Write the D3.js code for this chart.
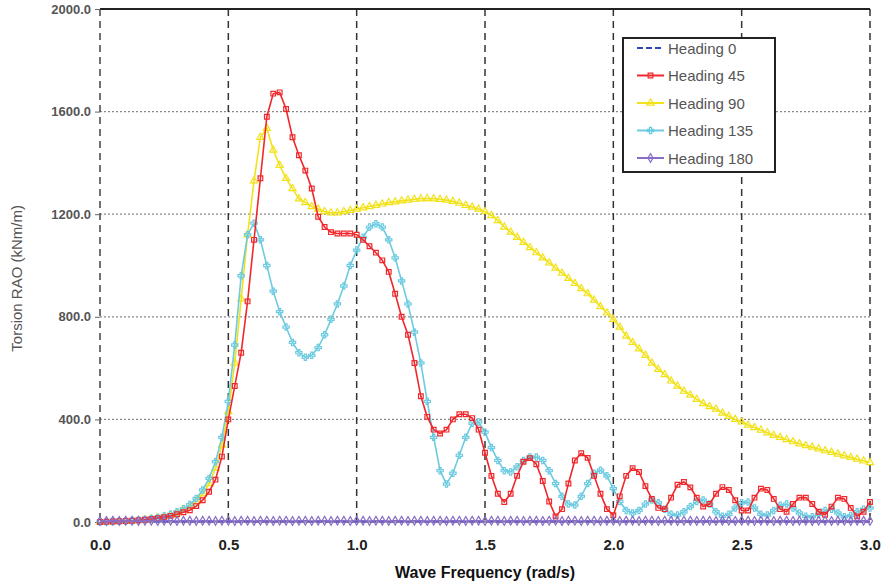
<!DOCTYPE html>
<html>
<head>
<meta charset="utf-8">
<script src="https://cdn.jsdelivr.net/npm/d3@7"></script>
<style>
  html, body { margin: 0; padding: 0; background: #ffffff; }
  svg { display: block; }
</style>
</head>
<body>
<div id="chart"></div>
<script>
// ---------- data ----------
const frequency = [
  0.000,0.025,0.050,0.075,0.100,0.125,0.150,0.175,0.200,0.225,
  0.250,0.275,0.300,0.325,0.350,0.375,0.400,0.425,0.450,0.475,
  0.500,0.525,0.550,0.575,0.600,0.625,0.650,0.675,0.700,0.725,
  0.750,0.775,0.800,0.825,0.850,0.875,0.900,0.925,0.950,0.975,
  1.000,1.025,1.050,1.075,1.100,1.125,1.150,1.175,1.200,1.225,
  1.250,1.275,1.300,1.325,1.350,1.375,1.400,1.425,1.450,1.475,
  1.500,1.525,1.550,1.575,1.600,1.625,1.650,1.675,1.700,1.725,
  1.750,1.775,1.800,1.825,1.850,1.875,1.900,1.925,1.950,1.975,
  2.000,2.025,2.050,2.075,2.100,2.125,2.150,2.175,2.200,2.225,
  2.250,2.275,2.300,2.325,2.350,2.375,2.400,2.425,2.450,2.475,
  2.500,2.525,2.550,2.575,2.600,2.625,2.650,2.675,2.700,2.725,
  2.750,2.775,2.800,2.825,2.850,2.875,2.900,2.925,2.950,2.975,
  3.000
];

const heading0 = [
  0,0,0,0,0,0,0,1,1,1,
  1,1,1,1,1,1,1,1,1,1,
  1,1,1,1,1,1,1,1,1,1,
  1,1,1,1,1,1,1,1,1,1,
  1,1,1,1,1,1,1,1,1,1,
  1,1,1,1,1,1,1,1,1,1,
  1,1,1,1,1,1,1,1,1,1,
  1,1,1,1,1,1,1,1,1,1,
  1,1,1,1,1,1,1,1,1,1,
  1,1,1,1,1,1,1,1,1,1,
  1,1,1,1,1,1,1,1,1,1,
  1,1,1,1,1,1,1,1,1,1,
  1
];

const heading45 = [
  0,1,2,3,4,5,7,9,12,15,
  19,24,30,38,46,62,85,118,165,255,
  400,530,660,860,1100,1340,1580,1670,1675,1610,
  1500,1430,1370,1300,1190,1150,1130,1125,1125,1125,
  1120,1100,1075,1050,1020,975,890,800,730,620,
  490,410,360,345,360,400,420,420,405,360,
  270,180,110,78,110,180,235,249,225,160,
  80,22,50,150,240,268,250,180,110,50,
  27,100,180,210,195,140,90,55,50,95,
  145,156,135,95,60,70,110,136,125,85,
  45,45,95,130,125,90,50,40,70,95,
  95,70,40,28,60,95,90,55,22,40,
  78
];

const heading90 = [
  0,1,2,3,4,5,7,9,12,16,
  21,27,35,46,60,80,110,150,210,300,
  430,620,870,1120,1330,1500,1535,1450,1390,1340,
  1300,1260,1245,1230,1220,1210,1205,1205,1210,1215,
  1220,1225,1230,1235,1240,1245,1248,1252,1255,1258,
  1260,1261,1260,1258,1255,1250,1243,1235,1228,1220,
  1210,1195,1175,1150,1130,1110,1090,1070,1050,1030,
  1010,990,970,950,930,910,890,865,840,815,
  790,760,725,700,675,650,620,595,575,550,
  530,510,495,478,462,450,440,425,412,400,
  390,378,368,358,348,338,330,321,313,305,
  298,292,285,278,272,265,258,252,245,238,
  232
];

const heading135 = [
  0,1,2,3,4,6,8,10,14,18,
  23,30,40,52,68,92,125,170,235,330,
  470,690,960,1120,1165,1100,1000,900,820,760,
  700,660,642,650,680,730,790,850,920,1000,
  1060,1110,1150,1163,1150,1100,1030,940,850,740,
  620,470,330,200,148,190,260,330,385,390,
  350,290,240,200,195,215,240,253,253,240,
  200,150,100,70,66,100,150,190,202,180,
  130,80,45,35,45,70,86,75,50,30,
  27,40,60,80,86,70,40,22,30,55,
  75,78,55,30,27,45,65,70,55,35,
  22,20,30,45,50,35,20,25,40,50,
  55
];

const heading180 = [
  4,4,5,4,5,5,4,5,5,4,
  5,5,4,5,5,4,5,5,4,5,
  5,4,5,5,4,5,5,4,5,5,
  4,5,5,4,5,5,4,5,5,4,
  5,5,4,5,5,4,5,5,4,5,
  5,4,5,5,4,5,5,4,5,5,
  4,5,5,4,5,5,4,5,5,4,
  5,5,4,5,5,4,5,5,4,5,
  5,4,5,5,4,5,5,4,5,5,
  4,5,5,4,5,5,4,5,5,4,
  5,5,4,5,5,4,5,5,4,5,
  5,4,5,5,4,5,5,4,5,5,
  4
];

const seriesNames = ["Heading 0", "Heading 45", "Heading 90", "Heading 135", "Heading 180"];
const xTicks = [0.0, 0.5, 1.0, 1.5, 2.0, 2.5, 3.0];
const yTicks = [0, 400, 800, 1200, 1600, 2000];
const xTitle = "Wave Frequency (rad/s)";
const yTitle = "Torsion RAO (kNm/m)";

// ---------- layout ----------
const W = 887, H = 588;
const margin = { left: 100, right: 17, top: 9, bottom: 66 };

const svg = d3.select("#chart").append("svg")
  .attr("width", W).attr("height", H)
  .style("font-family", "Liberation Sans, Arial, sans-serif");

const x = d3.scaleLinear().domain([0, 3]).range([margin.left, W - margin.right]);
const y = d3.scaleLinear().domain([0, 2000]).range([H - margin.bottom, margin.top]);

// horizontal grid
svg.append("g").selectAll("line").data(yTicks.filter(d => d > 0 && d < 2000)).join("line")
  .attr("x1", x(0)).attr("x2", x(3))
  .attr("y1", d => y(d)).attr("y2", d => y(d))
  .attr("stroke", "#8a8a8a").attr("stroke-width", 1.2)
  .attr("stroke-dasharray", "2,2");

// vertical grid
svg.append("g").selectAll("line").data(xTicks.filter(d => d > 0)).join("line")
  .attr("x1", d => x(d)).attr("x2", d => x(d))
  .attr("y1", y(2000)).attr("y2", y(0))
  .attr("stroke", "#333").attr("stroke-width", 1.5)
  .attr("stroke-dasharray", "7,5");

// frame lines
svg.append("line").attr("x1", x(0)).attr("x2", x(3)).attr("y1", y(2000)).attr("y2", y(2000))
  .attr("stroke", "#222").attr("stroke-width", 2);
svg.append("line").attr("x1", x(0)).attr("x2", x(0)).attr("y1", y(2000)).attr("y2", y(0))
  .attr("stroke", "#444").attr("stroke-width", 1.5).attr("stroke-dasharray", "7,5");
svg.append("line").attr("x1", x(0)).attr("x2", x(3)).attr("y1", y(0)).attr("y2", y(0))
  .attr("stroke", "#555").attr("stroke-width", 1);

// axes (labels only)
const yAxis = d3.axisLeft(y).tickValues(yTicks).tickFormat(d3.format(".1f")).tickSize(5).tickPadding(4);
const gy = svg.append("g").attr("transform", `translate(${x(0)},0)`).call(yAxis);
gy.select(".domain").remove();
gy.selectAll("line").attr("stroke", "#666");
gy.selectAll("text").attr("font-size", 13).attr("font-weight", "bold").attr("fill", "#555");

const xAxis = d3.axisBottom(x).tickValues(xTicks).tickFormat(d3.format(".1f")).tickSize(0).tickPadding(17);
const gx = svg.append("g").attr("transform", `translate(0,${y(0)})`).call(xAxis);
gx.select(".domain").remove();
gx.selectAll("text").attr("font-size", 15).attr("font-weight", "bold").attr("fill", "#222");

svg.append("text").attr("x", x(1.5)).attr("y", 578).attr("text-anchor", "middle")
  .attr("font-size", 16).attr("font-weight", "bold").attr("fill", "#111").text(xTitle);
svg.append("text").attr("transform", `translate(22,${y(950)}) rotate(-90)`).attr("text-anchor", "middle")
  .attr("font-size", 15).attr("fill", "#555").text(yTitle);

// ---------- series ----------
const series = [
  { name: seriesNames[0], values: heading0,   color: "#2f44b8", marker: "none",     dash: "6,3" },
  { name: seriesNames[2], values: heading90,  color: "#f2e21a", marker: "triangle", dash: null },
  { name: seriesNames[3], values: heading135, color: "#6ccbe0", marker: "cross",    dash: null },
  { name: seriesNames[1], values: heading45,  color: "#f0282c", marker: "square",   dash: null },
  { name: seriesNames[4], values: heading180, color: "#8a6cc8", marker: "diamond",  dash: null }
];

const symbolMap = {
  triangle: d3.symbolTriangle,
  cross: d3.symbolCross,
  square: d3.symbolSquare,
  diamond: d3.symbolDiamond
};

const line = d3.line().x(d => x(d[0])).y(d => y(d[1]));

series.forEach(s => {
  const pts = frequency.map((f, i) => [f, s.values[i]]);
  const g = svg.append("g");
  g.append("path").datum(pts)
    .attr("fill", "none").attr("stroke", s.color).attr("stroke-width", 1.6)
    .attr("stroke-dasharray", s.dash).attr("d", line);
  if (s.marker !== "none") {
    const sym = d3.symbol().type(symbolMap[s.marker]).size(22);
    g.selectAll("path.m").data(pts).join("path").attr("class", "m")
      .attr("transform", d => `translate(${x(d[0])},${y(d[1])})`)
      .attr("d", sym())
      .attr("fill", "none").attr("stroke", s.color).attr("stroke-width", 1.2);
  }
});

// ---------- legend ----------
const legend = svg.append("g");
legend.append("rect").attr("x", 623).attr("y", 38).attr("width", 152).attr("height", 134)
  .attr("fill", "#fff").attr("stroke", "#222").attr("stroke-width", 2);

const legendItems = [
  { name: seriesNames[0], color: "#2f44b8", marker: "none",     dash: "6,3" },
  { name: seriesNames[1], color: "#f0282c", marker: "square",   dash: null },
  { name: seriesNames[2], color: "#f2e21a", marker: "triangle", dash: null },
  { name: seriesNames[3], color: "#6ccbe0", marker: "cross",    dash: null },
  { name: seriesNames[4], color: "#8a6cc8", marker: "diamond",  dash: null }
];
legendItems.forEach((it, i) => {
  const cy = 48 + i * 27.5;
  legend.append("line").attr("x1", 637).attr("x2", 664).attr("y1", cy).attr("y2", cy)
    .attr("stroke", it.color).attr("stroke-width", 2).attr("stroke-dasharray", it.dash);
  if (it.marker !== "none") {
    legend.append("path").attr("transform", `translate(650.5,${cy})`)
      .attr("d", d3.symbol().type(symbolMap[it.marker]).size(22)())
      .attr("fill", "none").attr("stroke", it.color).attr("stroke-width", 1.2);
  }
  legend.append("text").attr("x", 668).attr("y", cy + 5.5)
    .attr("font-size", 15).attr("fill", "#555").text(it.name);
});
</script>
</body>
</html>
